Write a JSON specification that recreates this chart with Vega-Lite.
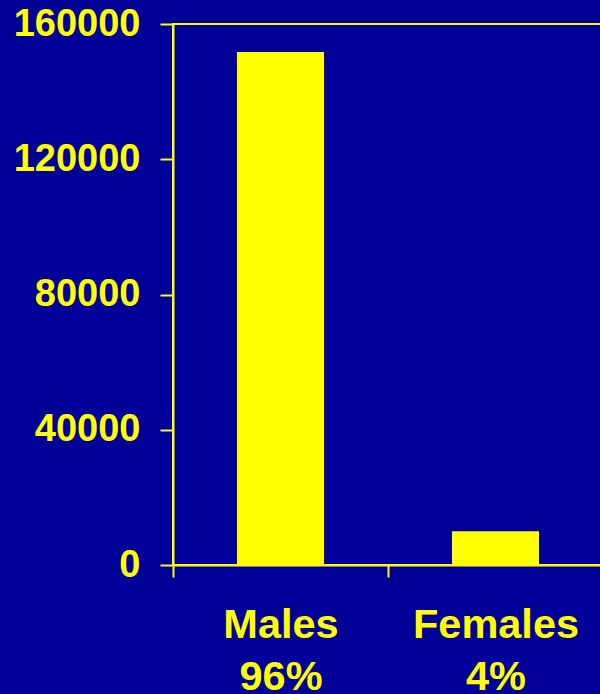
{
  "$schema": "https://vega.github.io/schema/vega-lite/v6.json",
  "autosize": {"type": "none"},
  "padding": {"left": 173, "top": 24, "right": 0, "bottom": 129},
  "width": 430,
  "height": 541,
  "background": "#000099",
  "config": {
    "view": {"stroke": "#FFFF00", "strokeWidth": 2},
    "font": "Liberation Sans"
  },
  "data": {
    "values": [
      {"sex": "Males", "pct": "96%", "count": 151700},
      {"sex": "Females", "pct": "4%", "count": 10000}
    ]
  },
  "mark": {"type": "bar", "color": "#FFFF00", "width": {"band": 0.405}},
  "encoding": {
    "x": {
      "field": "sex",
      "type": "nominal",
      "sort": ["Males", "Females"],
      "scale": {"paddingInner": 0, "paddingOuter": 0},
      "axis": {
        "title": null,
        "labelAngle": 0,
        "tickBand": "extent",
        "domainColor": "#FFFF00",
        "domainWidth": 2,
        "tickColor": "#FFFF00",
        "tickWidth": 2,
        "tickSize": 12,
        "labelColor": "#FFFF00",
        "labelFont": "Liberation Sans",
        "labelFontWeight": "bold",
        "labelFontSize": 41.5,
        "labelPadding": 27,
        "labelLineHeight": 52,
        "labelExpr": "datum.label == 'Males' ? ['Males', '96%'] : (datum.label == 'Females' && datum.index > 0 ? ['Females', '4%'] : '')"
      }
    },
    "y": {
      "field": "count",
      "type": "quantitative",
      "scale": {"domain": [0, 160000], "nice": false},
      "axis": {
        "title": null,
        "values": [0, 40000, 80000, 120000, 160000],
        "format": "d",
        "grid": false,
        "domainColor": "#FFFF00",
        "domainWidth": 2,
        "tickColor": "#FFFF00",
        "tickWidth": 2,
        "tickSize": 13,
        "labelColor": "#FFFF00",
        "labelFont": "Liberation Sans",
        "labelFontWeight": "bold",
        "labelFontSize": 38,
        "labelPadding": 20
      }
    }
  }
}
